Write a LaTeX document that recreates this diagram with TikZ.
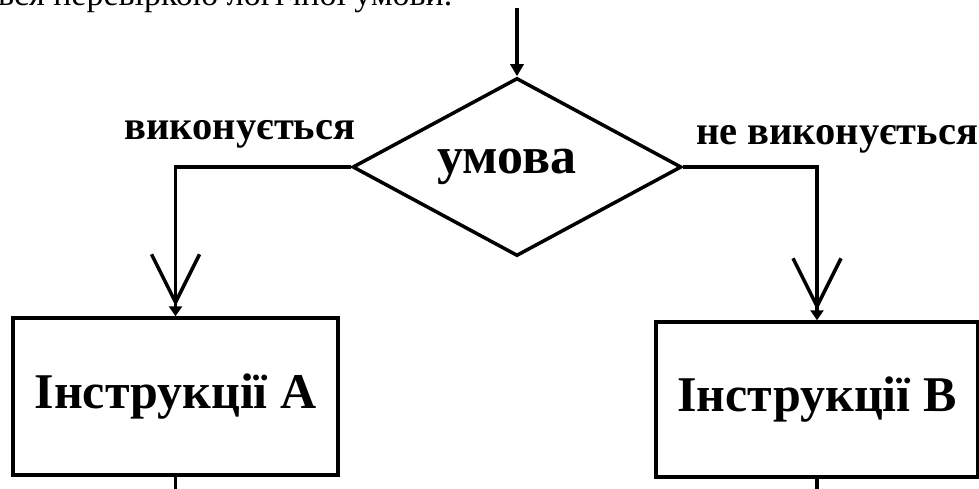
\documentclass[tikz,border=0pt]{standalone}
\usepackage{fontspec}
\setmainfont{Liberation Serif}
\usetikzlibrary{shapes.geometric,arrows.meta}
\begin{document}
\begin{tikzpicture}[x=1pt,y=-1pt,
  conn/.style={line width=3.5pt},
  smalltip/.style={-{Triangle[length=12pt,width=13pt]}},
  bigtip/.style={-{Straight Barb[length=48pt,width=48pt] Triangle[length=10pt,width=13pt]}},
  stepbox/.style={draw, rectangle, line width=3.5pt, inner sep=0pt,
    font=\bfseries\fontsize{50}{50}\selectfont},
  cond/.style={draw, diamond, line width=3.5pt, inner sep=0pt,
    minimum width=329pt, minimum height=178pt,
    font=\bfseries\fontsize{52}{52}\selectfont},
  lbl/.style={inner sep=0pt, anchor=base, font=\bfseries\fontsize{40.5}{40.5}\selectfont}
]
\useasboundingbox (0,0) rectangle (979,489);
\clip (0,0) rectangle (979,489);
\node[anchor=base west, inner sep=0pt, font=\fontsize{34}{34}\selectfont] (intro) at (-2,6) {вся перевіркою логічної умови.};
\node[cond] (c) at (517,167) {\makebox[0pt]{\hspace*{-20pt}умова}};
\node[stepbox, minimum width=325pt, minimum height=157pt] (a) at (175.5,396.5) {Інструкції А};
\node[stepbox, minimum width=322pt, minimum height=155pt] (b) at (817,399.5) {Інструкції В};
\coordinate (top) at (517,8);
\coordinate (aend) at (175.5,495);
\coordinate (bend) at (817,495);
\draw[conn, smalltip] (top) -- (c.north);
\draw[conn, bigtip] (c.west) -| (a.north);
\draw[conn, bigtip] (c.east) -| (b.north);
\draw[conn] (a.south) -- (aend);
\draw[conn] (b.south) -- (bend);
\node[lbl] (yes) at (240,140) {виконується};
\node[lbl] (no) at (837,145) {не виконується};
\end{tikzpicture}
\end{document}
